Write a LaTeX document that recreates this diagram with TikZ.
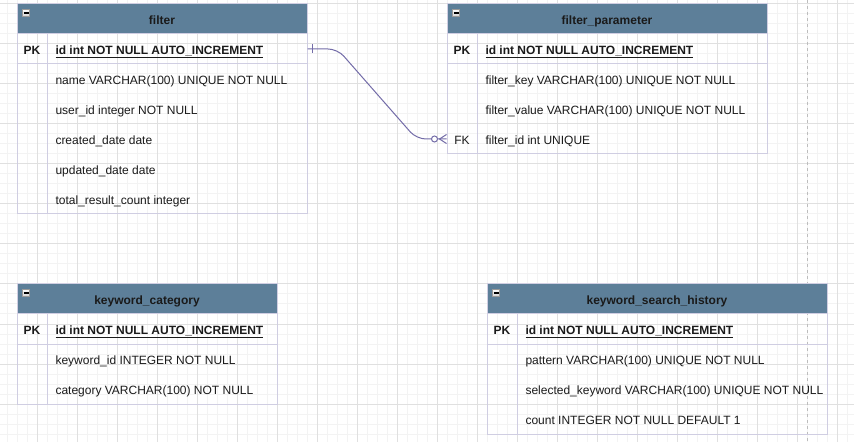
\documentclass[tikz,border=0pt]{standalone}
\usepackage{fontspec}
\setmainfont{Liberation Sans}
\usetikzlibrary{calc}
\definecolor{hdrc}{HTML}{5D7F99}
\definecolor{bordc}{HTML}{D0CEE2}
\definecolor{txtc}{HTML}{1A1A1A}
\definecolor{relc}{HTML}{736CA8}
\definecolor{gridmin}{HTML}{F3F3F3}
\definecolor{gridmaj}{HTML}{E0E0E0}
\definecolor{pagec}{HTML}{BDBDBD}
\newcommand\ertable[6]{% #1 name, #2 x0, #3 y0, #4 width, #5 rows, #6 title
  \fill[hdrc] (#2,#3) rectangle (#2+#4,#3+30);
  \draw[bord] (#2,#3) rectangle (#2+#4,#3+30+30*#5);
  \draw[bord] (#2+30,#3+30) -- (#2+30,#3+30+30*#5);
  \draw[bord] (#2,#3+30) -- (#2+#4,#3+30);
  \draw[bord] (#2,#3+60) -- (#2+#4,#3+60);
  \node[hdrtxt] (#1-title) at (#2+#4/2,#3+15) {#6};
  \node[minusbox] (#1-min) at (#2+9,#3+9) {};
  \draw[black,line width=1.1pt] ($(#1-min.center)+(-2.5,0)$) -- ($(#1-min.center)+(2.5,0)$);
}
\newcommand\erow[6]{% #1 name, #2 x0, #3 width, #4 y, #5 key, #6 text
  \node[rowbox,minimum width=#3*0.75pt] (#1) at (#2+#3/2,#4) {};
  \node[keytxt] (#1-key) at (#2+15,#4) {#5};
  \node[fldtxt] (#1-txt) at (#2+38,#4) {#6};
}
\begin{document}
\begin{tikzpicture}[x=0.75pt,y=-0.75pt,line width=0.75pt,
  font=\fontsize{9pt}{11pt}\selectfont, text=txtc,
  rowbox/.style={rectangle,inner sep=0pt,minimum height=22.5pt,draw=none},
  keytxt/.style={inner sep=0pt,anchor=center,text height=6.4pt,text depth=0pt,yshift=-0.6pt},
  fldtxt/.style={inner sep=0pt,anchor=west,text height=6.4pt,text depth=0pt,yshift=-0.6pt},
  hdrtxt/.style={inner sep=0pt,font=\fontsize{9pt}{11pt}\selectfont\bfseries,text height=6.4pt,text depth=0pt,yshift=-0.6pt},
  minusbox/.style={rectangle,inner sep=0pt,minimum size=5.6pt,draw=gray!80,top color=white,bottom color=gray!35,line width=0.5pt},
  bord/.style={draw=bordc,line width=0.75pt},
  rel/.style={draw=relc,line width=0.75pt},
]
\fill[white] (0,0) rectangle (854,442);
\useasboundingbox (0,0) rectangle (854,442);
\foreach \x in {7,17,...,847} \draw[gridmin] (\x,0) -- (\x,442);
\foreach \y in {4,14,...,434} \draw[gridmin] (0,\y) -- (854,\y);
\foreach \x in {37,77,...,837} \draw[gridmaj] (\x,0) -- (\x,442);
\foreach \y in {4,44,...,404} \draw[gridmaj] (0,\y) -- (854,\y);
\draw[pagec,dash pattern=on 2.25pt off 2.25pt] (807,0) -- (807,442);

% filter
\ertable{filter}{17}{4}{290}{6}{filter}
\erow{filter-1}{17}{290}{49}{\bfseries PK}{\bfseries\underline{id int NOT NULL AUTO\_INCREMENT}}
\erow{filter-2}{17}{290}{79}{}{name VARCHAR(100) UNIQUE NOT NULL}
\erow{filter-3}{17}{290}{109}{}{user\_id integer NOT NULL}
\erow{filter-4}{17}{290}{139}{}{created\_date date}
\erow{filter-5}{17}{290}{169}{}{updated\_date date}
\erow{filter-6}{17}{290}{199}{}{total\_result\_count integer}

% filter_parameter
\ertable{fparam}{447}{4}{320}{4}{filter\_parameter}
\erow{fparam-1}{447}{320}{49}{\bfseries PK}{\bfseries\underline{id int NOT NULL AUTO\_INCREMENT}}
\erow{fparam-2}{447}{320}{79}{}{filter\_key VARCHAR(100) UNIQUE NOT NULL}
\erow{fparam-3}{447}{320}{109}{}{filter\_value VARCHAR(100) UNIQUE NOT NULL}
\erow{fparam-4}{447}{320}{139}{FK}{filter\_id int UNIQUE}

% keyword_category
\ertable{kcat}{17}{284}{260}{3}{keyword\_category}
\erow{kcat-1}{17}{260}{329}{\bfseries PK}{\bfseries\underline{id int NOT NULL AUTO\_INCREMENT}}
\erow{kcat-2}{17}{260}{359}{}{keyword\_id INTEGER NOT NULL}
\erow{kcat-3}{17}{260}{389}{}{category VARCHAR(100) NOT NULL}

% keyword_search_history
\ertable{ksh}{487}{284}{340}{4}{keyword\_search\_history}
\erow{ksh-1}{487}{340}{329}{\bfseries PK}{\bfseries\underline{id int NOT NULL AUTO\_INCREMENT}}
\erow{ksh-2}{487}{340}{359}{}{pattern VARCHAR(100) UNIQUE NOT NULL}
\erow{ksh-3}{487}{340}{389}{}{selected\_keyword VARCHAR(100) UNIQUE NOT NULL}
\erow{ksh-4}{487}{340}{419}{}{count INTEGER NOT NULL DEFAULT 1}

% relation filter.id -> filter_parameter.filter_id
\draw[rel,rounded corners=7pt] (filter-1.east) -- ($(filter-1.east)+(30,0)$) -- ($(fparam-4.west)+(-30,0)$) -- (fparam-4.west);
\draw[rel] ($(filter-1.east)+(5,-4.5)$) -- ($(filter-1.east)+(5,4.5)$);
\draw[rel] ($(fparam-4.west)+(-7,0)$) -- ($(fparam-4.west)+(0,-4.5)$);
\draw[rel] ($(fparam-4.west)+(-7,0)$) -- ($(fparam-4.west)+(0,4.5)$);
\draw[rel,fill=white] ($(fparam-4.west)+(-12,0)$) circle[radius=2.25pt];
\end{tikzpicture}
\end{document}
